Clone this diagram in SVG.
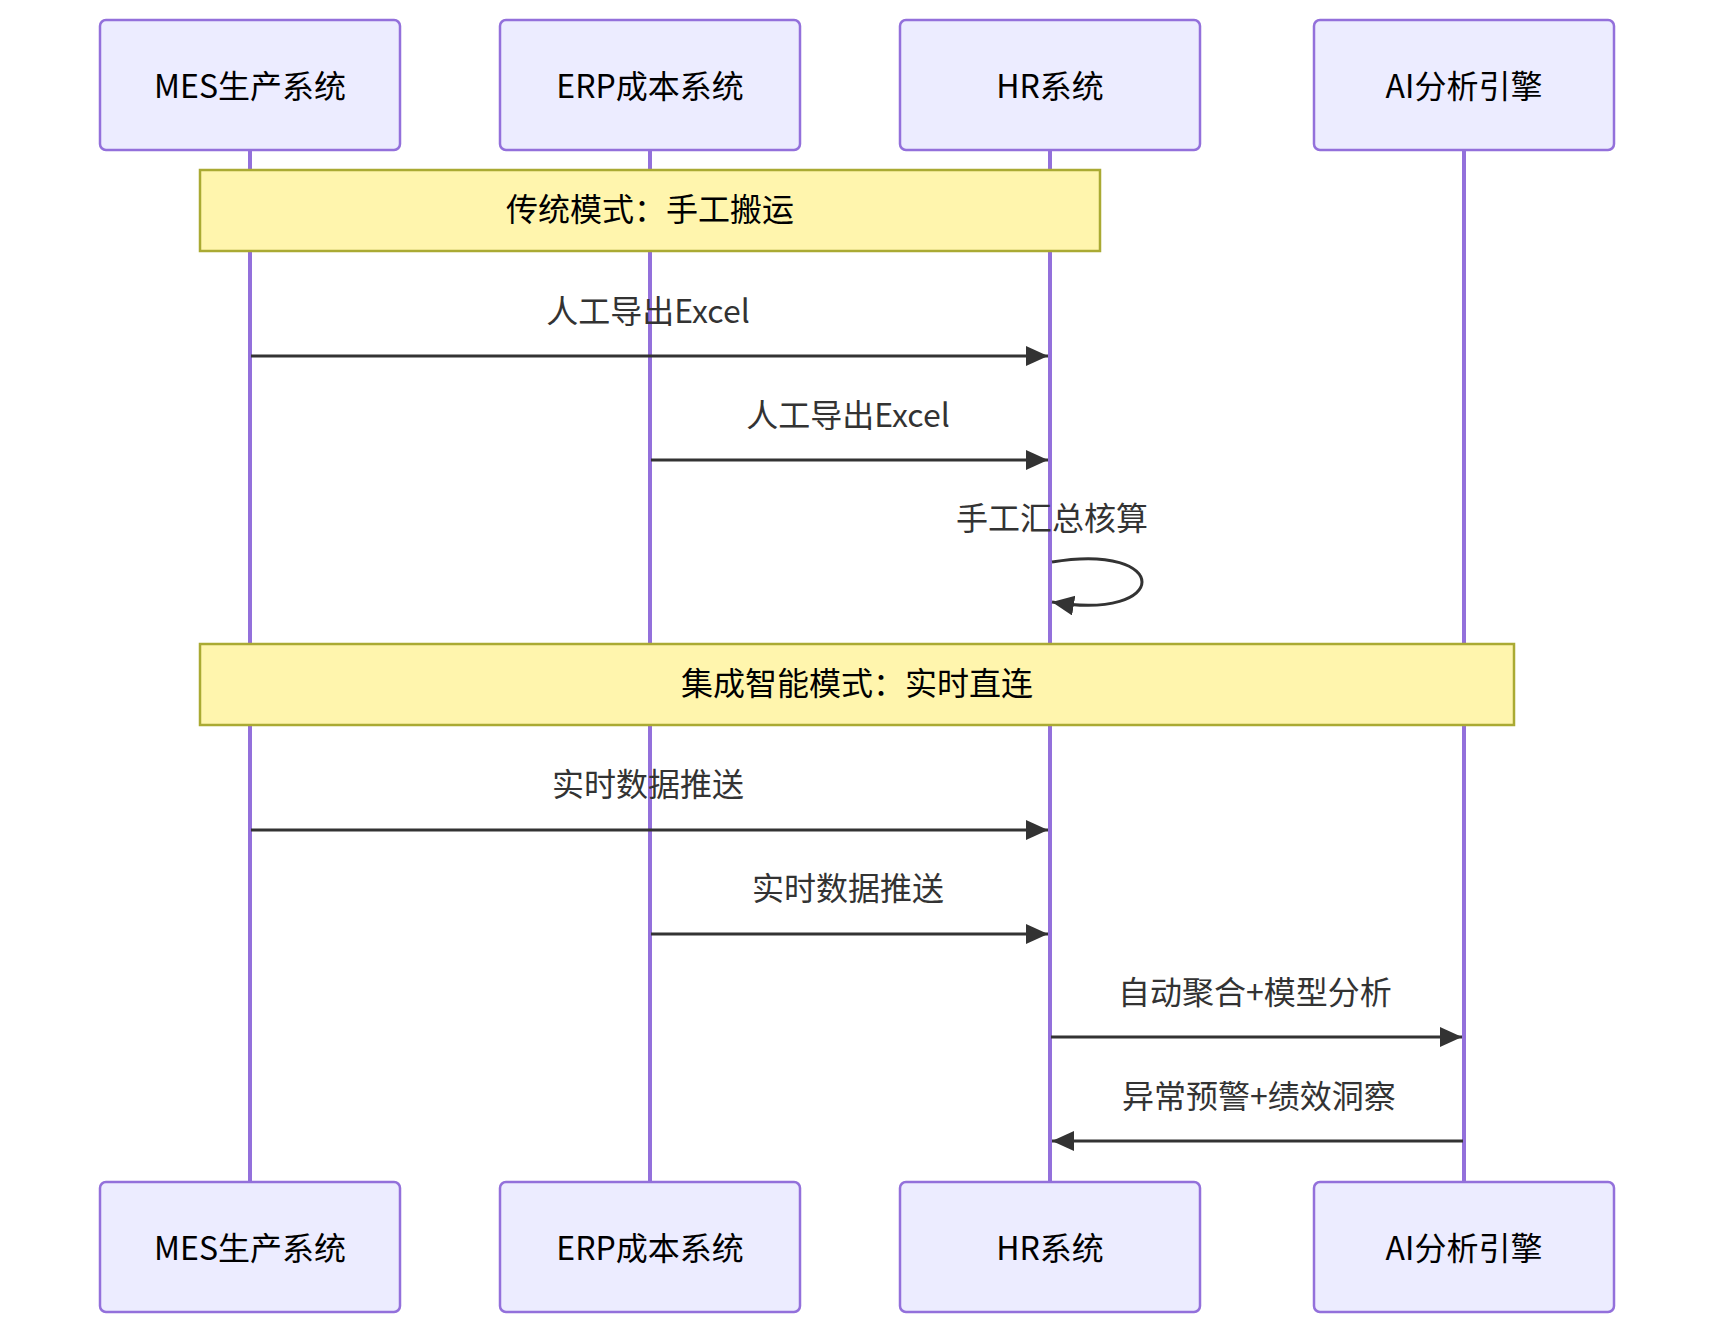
<svg xmlns="http://www.w3.org/2000/svg" width="1714" height="1334" viewBox="0 0 1714 1334">
<style>
.actor{fill:#ECECFF;stroke:#9370DB;stroke-width:2.5}
.atext{font-family:"Noto Sans CJK SC","Noto Sans",sans-serif;font-size:32px;fill:#000;text-anchor:middle;dominant-baseline:central}
.life{stroke:#9370DB;stroke-width:4;fill:none}
.note{fill:#FFF5AD;stroke:#AAAA33;stroke-width:2.5}
.ntext{font-family:"Noto Sans CJK SC","Noto Sans",sans-serif;font-size:32px;fill:#000;text-anchor:middle;dominant-baseline:central}
.msg{stroke:#333;stroke-width:3;fill:none}
.mtext{font-family:"Noto Sans CJK SC","Noto Sans",sans-serif;font-size:32px;fill:#333;text-anchor:middle;dominant-baseline:central}
</style>
<defs>
<marker id="arrow" markerUnits="userSpaceOnUse" markerWidth="24" markerHeight="22" refX="22" refY="10" orient="auto">
<path d="M0,0 L22,10 L0,20 z" fill="#333"/>
</marker>
</defs>
<g id="lifelines">
<line class="life" x1="250" y1="150" x2="250" y2="1182"/>
<line class="life" x1="650" y1="150" x2="650" y2="1182"/>
<line class="life" x1="1050" y1="150" x2="1050" y2="1182"/>
<line class="life" x1="1464" y1="150" x2="1464" y2="1182"/>
</g>
<g id="actor-mes-top"><rect class="actor" x="100" y="20" width="300" height="130" rx="6"/><text class="atext" x="250" y="84">MES生产系统</text></g>
<g id="actor-erp-top"><rect class="actor" x="500" y="20" width="300" height="130" rx="6"/><text class="atext" x="650" y="84">ERP成本系统</text></g>
<g id="actor-hr-top"><rect class="actor" x="900" y="20" width="300" height="130" rx="6"/><text class="atext" x="1050" y="84">HR系统</text></g>
<g id="actor-ai-top"><rect class="actor" x="1314" y="20" width="300" height="130" rx="6"/><text class="atext" x="1464" y="84">AI分析引擎</text></g>
<g id="note-1"><rect class="note" x="200" y="170" width="900" height="81"/><text class="ntext" x="650" y="207">传统模式：手工搬运</text></g>
<g id="note-2"><rect class="note" x="200" y="644" width="1314" height="81"/><text class="ntext" x="857" y="681">集成智能模式：实时直连</text></g>
<g id="connectors">
<line class="msg" x1="251" y1="356" x2="1048" y2="356" marker-end="url(#arrow)"/>
<text class="mtext" x="648" y="309">人工导出Excel</text>
<line class="msg" x1="651" y1="460" x2="1048" y2="460" marker-end="url(#arrow)"/>
<text class="mtext" x="848" y="413">人工导出Excel</text>
<path class="msg" d="M1052,562 C1172,542 1172,622 1052,602" marker-end="url(#arrow)"/>
<text class="mtext" x="1052" y="516">手工汇总核算</text>
<line class="msg" x1="251" y1="830" x2="1048" y2="830" marker-end="url(#arrow)"/>
<text class="mtext" x="648" y="782">实时数据推送</text>
<line class="msg" x1="651" y1="934" x2="1048" y2="934" marker-end="url(#arrow)"/>
<text class="mtext" x="848" y="886">实时数据推送</text>
<line class="msg" x1="1051" y1="1037" x2="1462" y2="1037" marker-end="url(#arrow)"/>
<text class="mtext" x="1255" y="990">自动聚合+模型分析</text>
<line class="msg" x1="1463" y1="1141" x2="1052" y2="1141" marker-end="url(#arrow)"/>
<text class="mtext" x="1259" y="1094">异常预警+绩效洞察</text>
</g>
<g id="actor-mes-bottom"><rect class="actor" x="100" y="1182" width="300" height="130" rx="6"/><text class="atext" x="250" y="1246">MES生产系统</text></g>
<g id="actor-erp-bottom"><rect class="actor" x="500" y="1182" width="300" height="130" rx="6"/><text class="atext" x="650" y="1246">ERP成本系统</text></g>
<g id="actor-hr-bottom"><rect class="actor" x="900" y="1182" width="300" height="130" rx="6"/><text class="atext" x="1050" y="1246">HR系统</text></g>
<g id="actor-ai-bottom"><rect class="actor" x="1314" y="1182" width="300" height="130" rx="6"/><text class="atext" x="1464" y="1246">AI分析引擎</text></g>
</svg>
